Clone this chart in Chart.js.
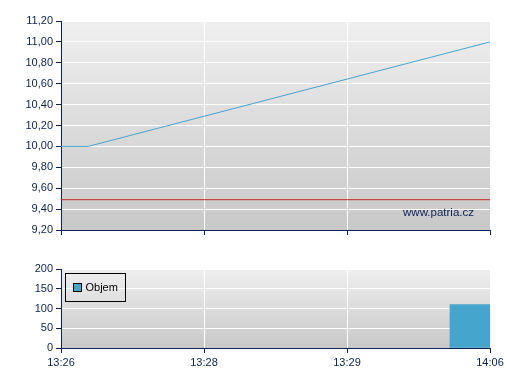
<!DOCTYPE html>
<html>
  <head>
    <title>Patria - cena a objem</title>
    <script src="https://cdn.jsdelivr.net/npm/chart.js"></script>
    <style>
      body { margin: 0; background: #fff; }
      canvas { position: absolute; left: 0; }
      #price { top: 0; }
      #volume { top: 245px; }
    </style>
  </head>
  <body>
    <canvas id="price" width="507" height="245"></canvas>
    <canvas id="volume" width="507" height="135"></canvas>
    <script>
      // time labels on the x axis (equally spaced positions 0..3)
      const timeLabels = ["13:26", "13:28", "13:29", "14:06"];

      // price line
      const priceX = [0, 0.19, 3];
      const priceY = [10.00, 10.00, 11.00];
      const prevClose = 9.49;

      // volume bars
      const volumeX = [2.86];
      const volumeY = [110];

      const navy = "#0b2255";
      Chart.defaults.font.family = "'Liberation Sans', Arial, sans-serif";
      Chart.defaults.font.size = 11;
      Chart.defaults.color = navy;

      // grey gradient behind the plot area
      const plotBackground = {
        id: "plotBackground",
        beforeDraw(chart) {
          const { ctx, chartArea: a } = chart;
          const g = ctx.createLinearGradient(0, a.top, 0, a.bottom);
          g.addColorStop(0, "#efefef");
          g.addColorStop(1, "#c8c8c8");
          ctx.save();
          ctx.fillStyle = g;
          ctx.fillRect(a.left, a.top, a.right - a.left, a.bottom - a.top);
          ctx.restore();
        }
      };

      const watermark = {
        id: "watermark",
        afterDatasetsDraw(chart) {
          const { ctx, chartArea: a } = chart;
          ctx.save();
          ctx.font = "11.5px 'Liberation Sans', Arial, sans-serif";
          ctx.fillStyle = navy;
          ctx.textAlign = "right";
          ctx.textBaseline = "middle";
          ctx.fillText("www.patria.cz", a.right - 16, a.bottom - 17);
          ctx.restore();
        }
      };

      const boxLegend = {
        id: "boxLegend",
        afterDatasetsDraw(chart) {
          const { ctx, chartArea: a } = chart;
          const ds = chart.data.datasets[0];
          const x = a.left + 4.5, y = a.top + 4.5;
          ctx.save();
          ctx.strokeStyle = "#000";
          ctx.lineWidth = 1;
          ctx.strokeRect(x, y, 60, 28);
          ctx.fillStyle = ds.backgroundColor;
          ctx.fillRect(x + 8, y + 10, 8, 8);
          ctx.strokeRect(x + 8, y + 10, 8, 8);
          ctx.font = "11px 'Liberation Sans', Arial, sans-serif";
          ctx.fillStyle = "#000";
          ctx.textBaseline = "middle";
          ctx.fillText(ds.label, x + 20, y + 14.5);
          ctx.restore();
        }
      };

      function xScale(showLabels) {
        return {
          type: "linear",
          min: 0,
          max: 3,
          offset: false,
          ticks: {
            display: showLabels,
            stepSize: 1,
            padding: 3,
            maxRotation: 0,
            callback: v => timeLabels[v]
          },
          grid: { color: "#ffffff", tickColor: navy, tickLength: 5, offset: false },
          border: { color: navy, width: 1 },
          afterFit: s => { s.height = showLabels ? 32 : 15; }
        };
      }

      function yScale(min, max, step, fmt) {
        return {
          min: min,
          max: max,
          ticks: { stepSize: step, padding: 3, callback: fmt },
          grid: { color: "#ffffff", tickColor: navy, tickLength: 5 },
          border: { color: navy, width: 1 },
          afterFit: s => { s.width = 61; }
        };
      }

      new Chart(document.getElementById("price"), {
        type: "line",
        data: {
          datasets: [
            {
              label: "Cena",
              data: priceX.map((x, i) => ({ x: x, y: priceY[i] })),
              borderColor: "#45a5d0",
              borderWidth: 1,
              pointRadius: 0,
              tension: 0
            },
            {
              label: "Předchozí závěr",
              data: [{ x: 0, y: prevClose }, { x: 3, y: prevClose }],
              borderColor: "#c02828",
              borderWidth: 1,
              pointRadius: 0
            }
          ]
        },
        options: {
          responsive: false,
          animation: false,
          devicePixelRatio: 1,
          layout: { padding: { top: 21, right: 17, left: 0, bottom: 0 } },
          plugins: { legend: { display: false }, tooltip: { enabled: false } },
          scales: {
            x: xScale(false),
            y: yScale(9.2, 11.2, 0.2, v => v.toFixed(2).replace(".", ","))
          }
        },
        plugins: [plotBackground, watermark]
      });

      new Chart(document.getElementById("volume"), {
        type: "bar",
        data: {
          datasets: [{
            label: "Objem",
            data: volumeX.map((x, i) => ({ x: x, y: volumeY[i] })),
            backgroundColor: "#45a5cd",
            barThickness: 40
          }]
        },
        options: {
          responsive: false,
          animation: false,
          devicePixelRatio: 1,
          layout: { padding: { top: 24, right: 17, left: 0, bottom: 0 } },
          plugins: { legend: { display: false }, tooltip: { enabled: false } },
          scales: {
            x: xScale(true),
            y: yScale(0, 200, 50, v => v)
          }
        },
        plugins: [plotBackground, boxLegend]
      });
    </script>
  </body>
</html>
